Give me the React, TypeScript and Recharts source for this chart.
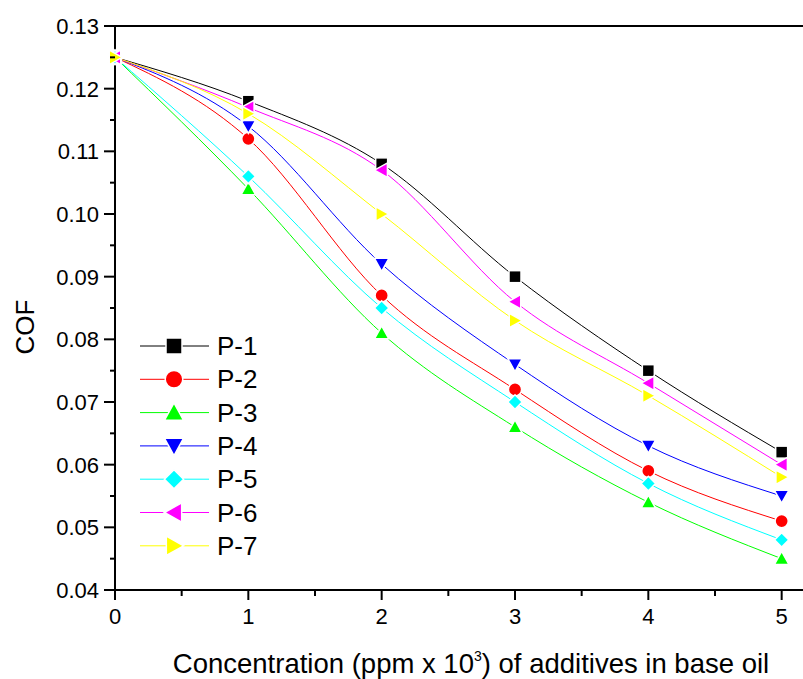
import React from 'react';
import { LineChart, Line, XAxis, YAxis, ReferenceLine, Legend } from 'recharts';

// x values: concentration (ppm x 10^3)
const concentration = [0, 1, 2, 3, 4, 5];

// COF values
const p1 = [0.125, 0.118, 0.108, 0.09, 0.075, 0.062];
const p2 = [0.125, 0.112, 0.087, 0.072, 0.059, 0.051];
const p3 = [0.125, 0.104, 0.081, 0.066, 0.054, 0.045];
const p4 = [0.125, 0.114, 0.092, 0.076, 0.063, 0.055];
const p5 = [0.125, 0.106, 0.085, 0.07, 0.057, 0.048];
const p6 = [0.125, 0.117, 0.107, 0.086, 0.073, 0.06];
const p7 = [0.125, 0.116, 0.1, 0.083, 0.071, 0.058];

const seriesNames = ['P-1', 'P-2', 'P-3', 'P-4', 'P-5', 'P-6', 'P-7'];
const seriesValues = [p1, p2, p3, p4, p5, p6, p7];
const seriesColors = ['#000000', '#ff0000', '#00ff00', '#0000ff', '#00ffff', '#ff00ff', '#ffff00'];
const seriesShapes = ['square', 'circle', 'up', 'down', 'diamond', 'left', 'right'];

const xMajorTicks = [0, 1, 2, 3, 4, 5];
const xMinorTicks = [0.5, 1.5, 2.5, 3.5, 4.5];
const yMajorTicks = [0.04, 0.05, 0.06, 0.07, 0.08, 0.09, 0.1, 0.11, 0.12, 0.13];
const yMinorTicks = [0.045, 0.055, 0.065, 0.075, 0.085, 0.095, 0.105, 0.115, 0.125];

const data = concentration.map((c, i) => {
  const row: Record<string, number> = { x: c };
  seriesNames.forEach((n, k) => {
    row[n] = seriesValues[k][i];
  });
  return row;
});

const FONT = '"Liberation Sans", Arial, sans-serif';

const isIn = (list: number[], v: number) => list.some((t) => Math.abs(t - v) < 1e-9);

function Marker({ shape, cx, cy, s, color }: { shape: string; cx: number; cy: number; s: number; color: string }) {
  const st = { fill: color, stroke: '#ffffff', strokeWidth: 1.5 };
  const t = s * 1.2;
  switch (shape) {
    case 'square':
      return <rect x={cx - s} y={cy - s} width={2 * s} height={2 * s} {...st} />;
    case 'circle':
      return <circle cx={cx} cy={cy} r={s * 1.1} {...st} />;
    case 'up':
      return <polygon points={`${cx},${cy - t} ${cx + t},${cy + t * 0.8} ${cx - t},${cy + t * 0.8}`} {...st} />;
    case 'down':
      return <polygon points={`${cx},${cy + t} ${cx + t},${cy - t * 0.8} ${cx - t},${cy - t * 0.8}`} {...st} />;
    case 'diamond':
      return <polygon points={`${cx},${cy - t} ${cx + t},${cy} ${cx},${cy + t} ${cx - t},${cy}`} {...st} />;
    case 'left':
      return <polygon points={`${cx - t},${cy} ${cx + t * 0.8},${cy - t} ${cx + t * 0.8},${cy + t}`} {...st} />;
    default:
      return <polygon points={`${cx + t},${cy} ${cx - t * 0.8},${cy - t} ${cx - t * 0.8},${cy + t}`} {...st} />;
  }
}

const XTick = (props: any) => {
  const { x, y, payload } = props;
  const major = isIn(xMajorTicks, payload.value);
  return (
    <g>
      <line x1={x} x2={x} y1={y} y2={y + (major ? 10 : 6)} stroke="#000" strokeWidth={2} />
      {major && (
        <text x={x} y={y + 34} textAnchor="middle" fontSize={22} fontFamily={FONT} fill="#000">
          {payload.value}
        </text>
      )}
    </g>
  );
};

const YTick = (props: any) => {
  const { x, y, payload } = props;
  const major = isIn(yMajorTicks, payload.value);
  return (
    <g>
      <line x1={x - (major ? 11 : 5)} x2={x} y1={y} y2={y} stroke="#000" strokeWidth={2} />
      {major && (
        <text x={x - 16} y={y + 8} textAnchor="end" fontSize={22} fontFamily={FONT} fill="#000">
          {payload.value.toFixed(2)}
        </text>
      )}
    </g>
  );
};

const LegendBox = () => (
  <svg width={150} height={240}>
    {seriesNames.map((n, i) => {
      const cy = 16 + i * 33.3;
      return (
        <g key={n}>
          <line x1={0} x2={69} y1={cy} y2={cy} stroke={seriesColors[i]} strokeWidth={1} />
          <Marker shape={seriesShapes[i]} cx={34} cy={cy} s={8} color={seriesColors[i]} />
          <text x={77} y={cy + 9} fontSize={26} fontFamily={FONT} fill="#000">
            {n}
          </text>
        </g>
      );
    })}
  </svg>
);

export default function App() {
  return (
    <div style={{ position: 'absolute', left: 0, top: 0, width: 803, height: 679, overflow: 'hidden', background: '#fff' }}>
      <LineChart width={815} height={679} data={data} margin={{ top: 26, right: 0, bottom: 0, left: 0 }}>
        <XAxis
          dataKey="x"
          type="number"
          domain={[0, 5.25]}
          ticks={[...xMajorTicks, ...xMinorTicks].sort((a, b) => a - b)}
          interval={0}
          height={89}
          tickSize={0}
          tickMargin={0}
          tickLine={false}
          tick={<XTick />}
          axisLine={{ stroke: '#000', strokeWidth: 2 }}
          label={{
            content: () => (
              <text x={471} y={673} textAnchor="middle" fontSize={27.5} fontFamily={FONT} fill="#000">
                Concentration (ppm x 10
                <tspan dy={-12} fontSize={14}>3</tspan>
                <tspan dy={12}>) of additives in base oil</tspan>
              </text>
            ),
          }}
        />
        <YAxis
          type="number"
          domain={[0.04, 0.13]}
          ticks={[...yMajorTicks, ...yMinorTicks].sort((a, b) => a - b)}
          interval={0}
          width={115}
          tickSize={0}
          tickMargin={0}
          tickLine={false}
          tick={<YTick />}
          axisLine={{ stroke: '#000', strokeWidth: 2 }}
          label={{
            content: () => (
              <text
                x={34}
                y={327}
                textAnchor="middle"
                fontSize={26}
                fontFamily={FONT}
                fill="#000"
                transform="rotate(-90 34 327)"
              >
                COF
              </text>
            ),
          }}
        />
        <ReferenceLine y={0.13} stroke="#000" strokeWidth={2} />
        <ReferenceLine x={5.25} stroke="#000" strokeWidth={2} />
        <Legend
          layout="vertical"
          align="center"
          verticalAlign="middle"
          content={() => <LegendBox />}
          wrapperStyle={{ position: 'absolute', left: 140, top: 330, width: 150, height: 240 }}
        />
        {seriesNames.map((n, i) => (
          <Line
            key={n}
            dataKey={n}
            name={n}
            type="monotone"
            stroke={seriesColors[i]}
            strokeWidth={1}
            isAnimationActive={false}
            activeDot={false}
            dot={(props: any) => (
              <Marker
                key={`${n}-${props.index}`}
                shape={seriesShapes[i]}
                cx={props.cx}
                cy={props.cy}
                s={6}
                color={seriesColors[i]}
              />
            )}
          />
        ))}
      </LineChart>
    </div>
  );
}
